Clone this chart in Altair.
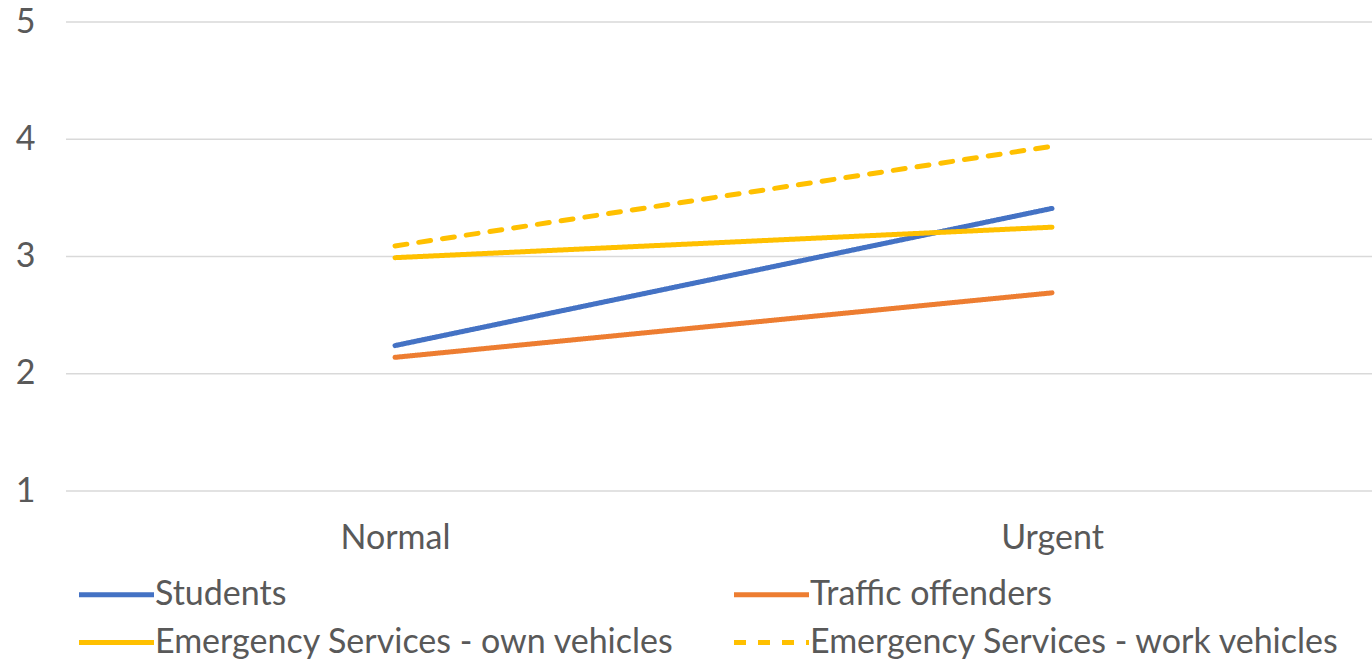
import altair as alt
import pandas as pd

# Mean ratings per condition for each participant group
conditions = ["Normal", "Urgent"]
students = [2.24, 3.41]
traffic_offenders = [2.14, 2.69]
es_own_vehicles = [2.99, 3.25]
es_work_vehicles = [3.09, 3.94]

series_names = [
    "Students",
    "Traffic offenders",
    "Emergency Services - own vehicles",
    "Emergency Services - work vehicles",
]
series_values = [students, traffic_offenders, es_own_vehicles, es_work_vehicles]
series_colors = ["#4472C4", "#ED7D31", "#FFC000", "#FFC000"]
series_dashes = [[1, 0], [1, 0], [1, 0], [12, 12]]

y_ticks = [1, 2, 3, 4, 5]

rows = []
for name, vals in zip(series_names, series_values):
    for cond, v in zip(conditions, vals):
        rows.append({"Condition": cond, "Group": name, "Score": v})
df = pd.DataFrame(rows)
grid_df = pd.DataFrame({"Score": y_ticks})

FONT = "Lato"
TEXT = "#595959"
FS = 34
W, H = 1306, 469
LINE_W = 5

y_scale = alt.Scale(domain=[1, 5], nice=False, zero=False)
y_axis = alt.Axis(
    title=None,
    values=y_ticks,
    format="d",
    domain=False,
    ticks=False,
    grid=False,
    labelFont=FONT,
    labelFontSize=FS,
    labelColor=TEXT,
    labelPadding=31,
)

# Horizontal gridlines across the full plot width
grid = (
    alt.Chart(grid_df)
    .mark_rule(color="#d9d9d9", strokeWidth=1.5)
    .encode(
        y=alt.Y("Score:Q", scale=y_scale, axis=y_axis),
        x=alt.value(0),
        x2=alt.value(W),
    )
)

# Wide, flat legend glyph: a horizontal segment 2.5x the nominal symbol width
legend_glyph = "M-2.5,0H2.5"

lines = (
    alt.Chart(df)
    .mark_line(strokeWidth=LINE_W, strokeCap="round", strokeJoin="round")
    .encode(
        x=alt.X(
            "Condition:N",
            sort=conditions,
            scale=alt.Scale(type="point", range=[329, 986], padding=0),
            axis=alt.Axis(
                title=None,
                domain=False,
                ticks=False,
                grid=False,
                labelAngle=0,
                labelFont=FONT,
                labelFontSize=FS,
                labelColor=TEXT,
                labelPadding=30,
            ),
        ),
        y=alt.Y("Score:Q", scale=y_scale, axis=y_axis),
        color=alt.Color(
            "Group:N",
            sort=series_names,
            scale=alt.Scale(domain=series_names, range=series_colors),
            legend=alt.Legend(
                title=None,
                orient="none",
                direction="horizontal",
                legendX=33,
                legendY=555,
                columns=2,
                columnPadding=49,
                rowPadding=13,
                symbolType=legend_glyph,
                symbolSize=900,
                symbolStrokeWidth=LINE_W,
                labelFont=FONT,
                labelFontSize=FS,
                labelColor=TEXT,
                labelOffset=21,
                labelLimit=800,
                padding=0,
            ),
        ),
        strokeDash=alt.StrokeDash(
            "Group:N",
            sort=series_names,
            scale=alt.Scale(domain=series_names, range=series_dashes),
            legend=None,
        ),
        order=alt.Order("Condition:N"),
    )
)

chart = (
    alt.layer(grid, lines)
    .properties(
        width=W,
        height=H,
        background="white",
        autosize=alt.AutoSizeParams(type="none"),
        padding={"left": 66, "top": 22, "right": 0, "bottom": 170},
    )
    .configure_view(strokeWidth=0)
)

chart.save("out.html", embed_options={"renderer": "svg", "actions": False})
